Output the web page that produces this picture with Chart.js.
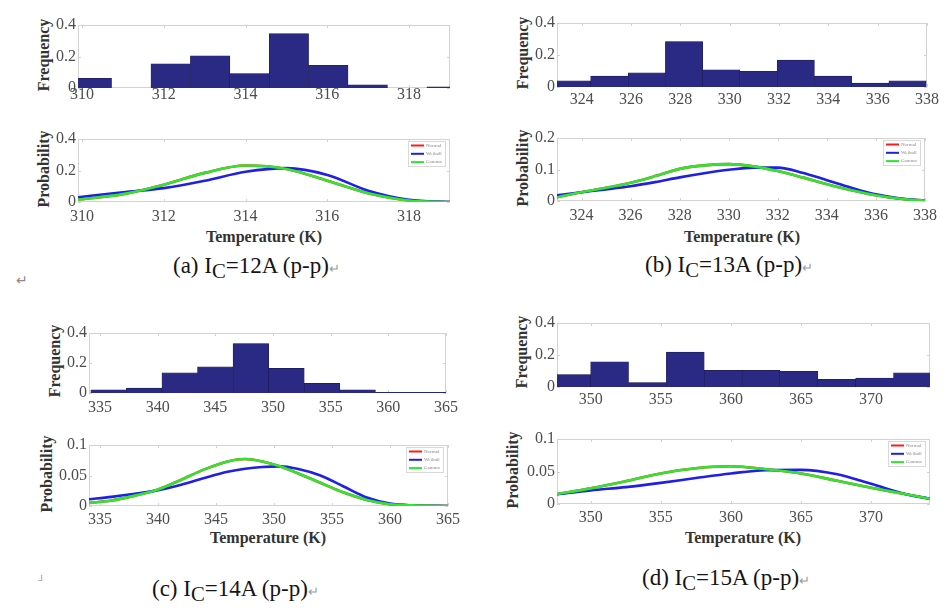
<!DOCTYPE html>
<html>
<head>
<meta charset="utf-8">
<title>Temperature distributions</title>
<script src="https://cdn.jsdelivr.net/npm/chart.js@4.4.1/dist/chart.umd.min.js"></script>
<style>
  body { margin: 0; background: #fff; width: 951px; height: 608px; position: relative; overflow: hidden;
         font-family: 'Liberation Serif', 'Times New Roman', serif; }
  canvas { position: absolute; }
  .ttl { position: absolute; font-weight: bold; font-size: 16px; color: #333; white-space: nowrap; line-height: 16px; }
  .rot { transform: translate(-50%, -50%) rotate(-90deg); }
  .mid { transform: translate(-50%, -50%); }
  .cap { position: absolute; font-size: 23px; color: #151515; white-space: nowrap; line-height: 23px; }
  .cap .sub { font-size: 0.9em; position: relative; top: 0.22em; }
  .ret { color: #9a9a9a; font-size: 13px; }
  .mark { position: absolute; color: #8a8a8a; font-size: 14px; }
</style>
</head>
<body>

<div class="ttl rot" style="left:44px; top:55px;">Frequency</div>
<div class="ttl rot" style="left:44px; top:169px;">Probability</div>
<div class="ttl mid" style="left:264px; top:237px;">Temperature (K)</div>
<div class="cap" style="left:173px; top:254px;">(a) I<span class="sub">C</span>=12A (p-p)<span class="ret">↵</span></div>
<div class="mark" style="left:16px; top:272px;">↵</div>

<div class="ttl rot" style="left:523px; top:53px;">Frequency</div>
<div class="ttl rot" style="left:523px; top:168px;">Probability</div>
<div class="ttl mid" style="left:742px; top:237px;">Temperature (K)</div>
<div class="cap" style="left:645px; top:253px;">(b) I<span class="sub">C</span>=13A (p-p)<span class="ret">↵</span></div>

<div class="ttl rot" style="left:55px; top:361px;">Frequency</div>
<div class="ttl rot" style="left:47px; top:474px;">Probability</div>
<div class="ttl mid" style="left:268px; top:538px;">Temperature (K)</div>
<div class="cap" style="left:152px; top:577px;">(c) I<span class="sub">C</span>=14A (p-p)<span class="ret">↵</span></div>
<div class="mark" style="left:38px; top:575px; font-size:10px;">┘</div>

<div class="ttl rot" style="left:522px; top:352px;">Frequency</div>
<div class="ttl rot" style="left:513px; top:470px;">Probability</div>
<div class="ttl mid" style="left:743px; top:538px;">Temperature (K)</div>
<div class="cap" style="left:642px; top:566px;">(d) I<span class="sub">C</span>=15A (p-p)<span class="ret">↵</span></div>

<script>
// ---------------- data ----------------
// histograms: bin centres (K) and relative frequency
const histCentersA = [310.24, 311.2, 312.17, 313.13, 314.1, 315.06, 316.02, 316.99, 317.95, 318.92];
const histFreqA    = [0.062, 0, 0.154, 0.205, 0.092, 0.345, 0.144, 0.02, 0, 0.008];
const histCentersB = [323.6, 325.13, 326.64, 328.15, 329.66, 331.17, 332.68, 334.19, 335.7, 337.21];
const histFreqB    = [0.038, 0.068, 0.088, 0.284, 0.108, 0.098, 0.168, 0.068, 0.024, 0.038];
const histCentersC = [335.75, 338.83, 341.92, 345.0, 348.08, 351.17, 354.25, 357.34, 360.42, 363.51];
const histFreqC    = [0.021, 0.032, 0.134, 0.174, 0.33, 0.164, 0.064, 0.021, 0.004, 0.004];
const histCentersD = [348.65, 351.35, 354.05, 356.75, 359.45, 362.15, 364.85, 367.55, 370.25, 372.95];
const histFreqD    = [0.078, 0.158, 0.028, 0.218, 0.104, 0.104, 0.098, 0.048, 0.056, 0.088];

// fitted probability curves
const probXA   = [309.9, 311, 312, 313, 314, 315, 316, 317, 318, 319];
const weibullA = [0.03, 0.062, 0.088, 0.135, 0.192, 0.215, 0.172, 0.072, 0.014, 0.0];
const gammaA   = [0.015, 0.05, 0.11, 0.185, 0.232, 0.21, 0.135, 0.056, 0.01, 0.0];
const normalA  = gammaA; // hidden under the gamma curve

const probXB   = [323, 324, 325, 326, 327, 328, 329, 330, 331, 332, 333, 334, 335, 336, 337, 338];
const weibullB = [0.018, 0.028, 0.037, 0.047, 0.06, 0.075, 0.088, 0.099, 0.106, 0.106, 0.09, 0.066, 0.042, 0.021, 0.008, 0.001];
const gammaB   = [0.012, 0.028, 0.042, 0.058, 0.079, 0.102, 0.113, 0.117, 0.11, 0.095, 0.075, 0.053, 0.034, 0.018, 0.007, 0.001];
const normalB  = gammaB;

const probXC   = [334, 336, 338, 340, 342, 344, 346, 347.5, 349, 350.5, 352, 354, 356, 358, 360, 362, 365];
const weibullC = [0.011, 0.015, 0.02, 0.026, 0.035, 0.046, 0.056, 0.061, 0.064, 0.065, 0.061, 0.05, 0.032, 0.014, 0.004, 0.001, 0];
const gammaC   = [0.005, 0.009, 0.017, 0.027, 0.043, 0.06, 0.073, 0.077, 0.073, 0.065, 0.054, 0.038, 0.022, 0.01, 0.003, 0.001, 0];
const normalC  = gammaC;

const probXD   = [347.6, 350, 352.5, 355, 357.5, 360, 362.5, 365, 367.5, 370, 372.5, 374.2];
const weibullD = [0.015, 0.021, 0.026, 0.0325, 0.04, 0.047, 0.052, 0.0525, 0.046, 0.031, 0.015, 0.008];
const gammaD   = [0.015, 0.024, 0.035, 0.047, 0.055, 0.058, 0.0535, 0.047, 0.036, 0.025, 0.015, 0.008];
const normalD  = gammaD;

// tick labels
const xTicksA = [310, 312, 314, 316, 318];
const xTicksB = [324, 326, 328, 330, 332, 334, 336, 338];
const xTicksC = [335, 340, 345, 350, 355, 360, 365];
const xTicksD = [350, 355, 360, 365, 370];
const freqTicks  = [0, 0.2, 0.4];
const probTicksA = [0, 0.2, 0.4];
const probTicksB = [0, 0.1, 0.2];
const probTicksC = [0, 0.05, 0.1];
const probTicksD = [0, 0.05, 0.1];
const legendNames = ['Normal', 'Weibull', 'Gamma'];

// ---------------- drawing ----------------
const PAD = { l: 40, t: 8, r: 16, b: 26 };
const FONT = "'Liberation Serif', 'Times New Roman', serif";
const BAR = '#2a2a84';
const COLORS = { normal: '#ff1a1a', weibull: '#1f1fe6', gamma: '#2ee62e' };

// light grey box with small inward ticks, like the MATLAB axes
const framePlugin = {
  id: 'frame',
  beforeDatasetsDraw(chart) {
    const { ctx, chartArea: a, scales } = chart;
    ctx.save();
    ctx.strokeStyle = '#d2d2d2';
    ctx.lineWidth = 1;
    ctx.strokeRect(a.left + 0.5, a.top + 0.5, a.width - 1, a.height - 1);
    ctx.beginPath();
    scales.x.ticks.forEach(t => {
      const px = Math.round(scales.x.getPixelForValue(t.value)) + 0.5;
      ctx.moveTo(px, a.top); ctx.lineTo(px, a.top + 3);
      ctx.moveTo(px, a.bottom); ctx.lineTo(px, a.bottom - 3);
    });
    scales.y.ticks.forEach(t => {
      const py = Math.round(scales.y.getPixelForValue(t.value)) + 0.5;
      ctx.moveTo(a.left, py); ctx.lineTo(a.left + 3, py);
      ctx.moveTo(a.right, py); ctx.lineTo(a.right - 3, py);
    });
    ctx.stroke();
    ctx.restore();
  }
};

// small legend box in the upper right corner of the probability plots
const boxLegend = {
  id: 'boxLegend',
  afterDraw(chart) {
    if (chart.config.type !== 'line') return;
    const { ctx, chartArea: a } = chart;
    const w = 37, h = 25;
    const x0 = a.right - 5 - w, y0 = a.top + 2;
    ctx.save();
    ctx.fillStyle = '#fff';
    ctx.fillRect(x0, y0, w, h);
    ctx.strokeStyle = '#d8d8d8';
    ctx.lineWidth = 1;
    ctx.strokeRect(x0 + 0.5, y0 + 0.5, w, h);
    const cols = [COLORS.normal, COLORS.weibull, COLORS.gamma];
    ctx.font = '5px ' + FONT;
    ctx.textBaseline = 'middle';
    legendNames.forEach((name, i) => {
      const y = y0 + 4.5 + i * 8.3;
      ctx.strokeStyle = cols[i];
      ctx.lineWidth = 2;
      ctx.beginPath(); ctx.moveTo(x0 + 3, y); ctx.lineTo(x0 + 16, y); ctx.stroke();
      ctx.fillStyle = '#888';
      ctx.fillText(name, x0 + 18, y);
    });
    ctx.restore();
  }
};

function makeCanvas(rect) {
  const c = document.createElement('canvas');
  c.width = rect.w + PAD.l + PAD.r;
  c.height = rect.h + PAD.t + PAD.b;
  c.style.left = (rect.x - PAD.l) + 'px';
  c.style.top = (rect.y - PAD.t) + 'px';
  document.body.appendChild(c);
  return c;
}

function scales(p, yMax, yTicks) {
  return {
    x: {
      type: 'linear', min: p.xMin, max: p.xMax, offset: false,
      afterBuildTicks: ax => { ax.ticks = p.xTicks.map(v => ({ value: v })); },
      afterFit: ax => { ax.height = PAD.b; },
      grid: { display: false, drawTicks: false, offset: false },
      border: { display: false },
      ticks: { font: { family: FONT, size: 16, lineHeight: 1 }, color: '#4d4d4d',
               padding: p.gap - 8, maxRotation: 0, autoSkip: false, callback: v => String(v) }
    },
    y: {
      min: 0, max: yMax,
      afterBuildTicks: ax => { ax.ticks = yTicks.map(v => ({ value: v })); },
      afterFit: ax => { ax.width = PAD.l; },
      grid: { display: false, drawTicks: false },
      border: { display: false },
      ticks: { font: { family: FONT, size: 16, lineHeight: 1 }, color: '#4d4d4d',
               padding: 2, callback: v => String(v) }
    }
  };
}

function baseOptions(p, yMax, yTicks) {
  return {
    responsive: false,
    animation: false,
    devicePixelRatio: 1,
    layout: { padding: { left: 0, top: PAD.t, right: PAD.r, bottom: 0 }, autoPadding: false },
    plugins: { legend: { display: false }, tooltip: { enabled: false } },
    scales: scales(p, yMax, yTicks)
  };
}

function drawHist(p, centers, freqs) {
  new Chart(makeCanvas(p.hist), {
    type: 'bar',
    data: {
      datasets: [{
        data: centers.map((x, i) => ({ x, y: freqs[i] })),
        backgroundColor: BAR,
        borderColor: '#1b1b55',
        borderWidth: 0.6,
        barThickness: 'flex',
        categoryPercentage: 1,
        barPercentage: 1
      }]
    },
    options: baseOptions({ ...p, gap: p.histGap }, 0.4, freqTicks),
    plugins: [framePlugin]
  });
}

function drawProb(p, xs, normal, weibull, gamma, yTicks) {
  const line = (label, vals, color, order) => ({
    label, order,
    data: xs.map((x, i) => ({ x, y: vals[i] })),
    borderColor: color, borderWidth: 2.6,
    pointRadius: 0, fill: false, cubicInterpolationMode: 'monotone'
  });
  new Chart(makeCanvas(p.prob), {
    type: 'line',
    data: {
      datasets: [
        line(legendNames[0], normal, COLORS.normal, 2),
        line(legendNames[1], weibull, COLORS.weibull, 1),
        line(legendNames[2], gamma, COLORS.gamma, 0)
      ]
    },
    options: baseOptions({ ...p, gap: p.probGap }, yTicks[yTicks.length - 1], yTicks),
    plugins: [framePlugin, boxLegend]
  });
}

// plot rectangles (page pixels) and axis ranges of the four sub-figures
const panelA = { hist: { x: 78, y: 23, w: 372, h: 65 }, prob: { x: 78, y: 137, w: 372, h: 65 },
                 xMin: 309.9, xMax: 319, xTicks: xTicksA, histGap: 7, probGap: 15 };
const panelB = { hist: { x: 557, y: 21, w: 371, h: 66 }, prob: { x: 557, y: 136, w: 371, h: 65 },
                 xMin: 323, xMax: 338, xTicks: xTicksB, histGap: 13, probGap: 15 };
const panelC = { hist: { x: 89, y: 331, w: 360, h: 62 }, prob: { x: 89, y: 443, w: 361, h: 63 },
                 xMin: 334.05, xMax: 365, xTicks: xTicksC, histGap: 15, probGap: 14 };
const panelD = { hist: { x: 557, y: 321, w: 373, h: 66 }, prob: { x: 557, y: 437, w: 373, h: 67 },
                 xMin: 347.6, xMax: 374.2, xTicks: xTicksD, histGap: 13, probGap: 14 };

drawHist(panelA, histCentersA, histFreqA);
drawProb(panelA, probXA, normalA, weibullA, gammaA, probTicksA);
drawHist(panelB, histCentersB, histFreqB);
drawProb(panelB, probXB, normalB, weibullB, gammaB, probTicksB);
drawHist(panelC, histCentersC, histFreqC);
drawProb(panelC, probXC, normalC, weibullC, gammaC, probTicksC);
drawHist(panelD, histCentersD, histFreqD);
drawProb(panelD, probXD, normalD, weibullD, gammaD, probTicksD);
</script>
</body>
</html>
